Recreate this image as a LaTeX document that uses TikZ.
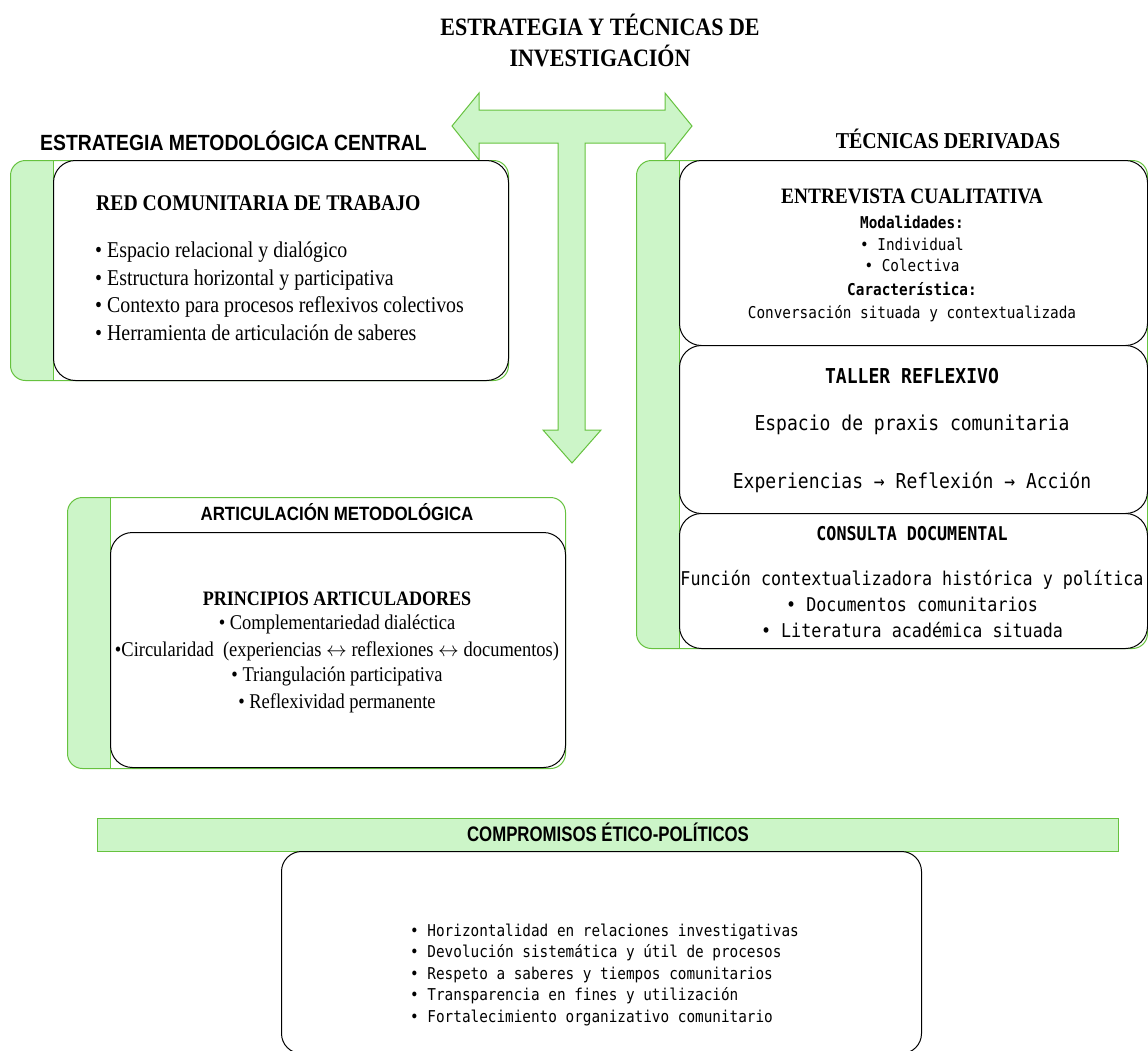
\documentclass[tikz,border=0pt]{standalone}
\usepackage{fontspec}
\setmainfont{Liberation Serif}[FakeStretch=0.88]
\setsansfont{Liberation Sans}[FakeStretch=0.88]
\setmonofont{DejaVu Sans Mono}[FakeStretch=0.88]
\newfontfamily\narrowsans{Liberation Sans}[FakeStretch=0.8]
\definecolor{gfill}{HTML}{CCF5C8}
\definecolor{gline}{HTML}{66C23F}
\newcommand\fsz[2]{\fontsize{#1}{#2}\selectfont}
\begin{document}
\begin{tikzpicture}[x=1pt,y=-1pt,
  gbox/.style={draw=gline, line width=1pt, fill=white, rounded corners=15pt, inner sep=0pt,
    path picture={\fill[gfill, sharp corners] (path picture bounding box.north west) rectangle ([xshift=43pt]path picture bounding box.south west);
      \draw[gline, line width=1pt, sharp corners] ([xshift=43pt]path picture bounding box.north west) -- ([xshift=43pt]path picture bounding box.south west);}},
  wbox/.style={draw=black, line width=1pt, fill=white, rounded corners=22pt, inner sep=0pt},
  txt/.style={inner sep=0pt, anchor=base},
  txtl/.style={inner sep=0pt, anchor=base west},
  serif/.style={font=\rmfamily\fsz{22.6}{28}},
  tmono/.style={font=\ttfamily\fsz{16.3}{20}},
]
\useasboundingbox (0,0) rectangle (1148,1050);
\clip (0,0) rectangle (1148,1050);

% title
\node[txt, font=\rmfamily\bfseries\fsz{25}{32}] (t1) at (600,35) {ESTRATEGIA Y TÉCNICAS DE};
\node[txt, font=\rmfamily\bfseries\fsz{25}{32}] (t2) at (600,66.7) {INVESTIGACIÓN};

% T-shaped arrow
\draw[gline, fill=gfill, line width=1pt] (452,126) -- (479,93) -- (479,110) -- (665,110) -- (665,93) -- (692,126)
  -- (665,160) -- (665,143) -- (585,143) -- (585,430) -- (601,430) -- (572,463) -- (543,430) -- (558,430)
  -- (558,143) -- (479,143) -- (479,160) -- cycle;

% left: estrategia metodologica central
\node[txtl, font=\sffamily\bfseries\fsz{22}{26}] (emc) at (40,150.7) {ESTRATEGIA METODOLÓGICA CENTRAL};
\node[gbox, anchor=north west, minimum width=498, minimum height=220] (redg) at (10,160) {};
\node[wbox, anchor=north west, minimum width=455, minimum height=220] (red) at (53,160) {};
\node[txtl, font=\rmfamily\bfseries\fsz{22.4}{28}] (redt) at (96,210) {RED COMUNITARIA DE TRABAJO};
\node[txtl, serif] (r1) at (95,257) {• Espacio relacional y dialógico};
\node[txtl, serif] (r2) at (95,285) {• Estructura horizontal y participativa};
\node[txtl, serif] (r3) at (95,312.5) {• Contexto para procesos reflexivos colectivos};
\node[txtl, serif] (r4) at (95,340) {• Herramienta de articulación de saberes};

% right: tecnicas derivadas
\node[txt, font=\rmfamily\bfseries\fsz{22.7}{26}] (tdt) at (948,148.3) {TÉCNICAS DERIVADAS};
\node[gbox, anchor=north west, minimum width=511, minimum height=488] (tecg) at (636,160) {};
\node[wbox, anchor=north west, minimum width=468, minimum height=185] (ent) at (679,160) {};
\node[wbox, anchor=north west, minimum width=468, minimum height=168] (tal) at (679,345) {};
\node[wbox, anchor=north west, minimum width=468, minimum height=135] (con) at (679,513) {};

\node[txt, font=\rmfamily\bfseries\fsz{22}{26}] (e0) at (912,203.3) {ENTREVISTA CUALITATIVA};
\node[txt, font=\ttfamily\bfseries\fsz{16.3}{20}] (e1) at (912,228) {Modalidades:};
\node[txt, tmono] (e2) at (912,250) {• Individual};
\node[txt, tmono] (e3) at (912,271.7) {• Colectiva};
\node[txt, font=\ttfamily\bfseries\fsz{16.3}{20}] (e4) at (912,295) {Característica:};
\node[txt, tmono] (e5) at (912,318) {Conversación situada y contextualizada};

\node[txt, font=\ttfamily\bfseries\fsz{20.5}{24}] (ta0) at (912,383) {TALLER REFLEXIVO};
\node[txt, font=\ttfamily\fsz{20.5}{24}] (ta1) at (912,430.7) {Espacio de praxis comunitaria};
\node[txt, font=\ttfamily\fsz{20.5}{24}] (ta2) at (912,488) {Experiencias → Reflexión → Acción};

\node[txt, font=\ttfamily\bfseries\fsz{19}{22}] (c0) at (912,540) {CONSULTA DOCUMENTAL};
\node[txt, font=\ttfamily\fsz{19}{22}] (c1) at (912,585) {Función contextualizadora histórica y política};
\node[txt, font=\ttfamily\fsz{19}{22}] (c2) at (912,611.7) {• Documentos comunitarios};
\node[txt, font=\ttfamily\fsz{19}{22}] (c3) at (912,637.7) {• Literatura académica situada};

% articulacion metodologica
\node[gbox, anchor=north west, minimum width=498, minimum height=271] (artg) at (67,497) {};
\node[wbox, anchor=north west, minimum width=455, minimum height=235] (art) at (110,532) {};
\node[txt, font=\sffamily\bfseries\fsz{19.2}{22}] (at0) at (337,520) {ARTICULACIÓN METODOLÓGICA};
\node[txt, font=\rmfamily\bfseries\fsz{20.5}{24}] (a0) at (337,605) {PRINCIPIOS ARTICULADORES};
\node[txt, font=\rmfamily\fsz{21}{26}] (a1) at (337,629) {• Complementariedad dialéctica};
\node[txt, font=\rmfamily\fsz{21}{26}] (a2) at (337,656.7) {•Circularidad\ \ (experiencias $\leftrightarrow$ reflexiones $\leftrightarrow$ documentos)};
\node[txt, font=\rmfamily\fsz{21}{26}] (a3) at (337,681.7) {• Triangulación participativa};
\node[txt, font=\rmfamily\fsz{21}{26}] (a4) at (337,708) {• Reflexividad permanente};

% compromisos
\node[draw=gline, line width=1pt, fill=gfill, anchor=north west, minimum width=1021, minimum height=33, inner sep=0pt] (bar) at (97,818) {};
\node[txt, font=\narrowsans\bfseries\fsz{21}{24}] (bart) at (608,841.7) {COMPROMISOS ÉTICO-POLÍTICOS};
\node[wbox, rounded corners=20pt, anchor=north west, minimum width=640, minimum height=202] (comp) at (281,851) {};
\node[txtl, tmono] (p1) at (410,936.7) {• Horizontalidad en relaciones investigativas};
\node[txtl, tmono] (p2) at (410,957.5) {• Devolución sistemática y útil de procesos};
\node[txtl, tmono] (p3) at (410,979) {• Respeto a saberes y tiempos comunitarios};
\node[txtl, tmono] (p4) at (410,1000.5) {• Transparencia en fines y utilización};
\node[txtl, tmono] (p5) at (410,1022) {• Fortalecimiento organizativo comunitario};
\end{tikzpicture}
\end{document}
